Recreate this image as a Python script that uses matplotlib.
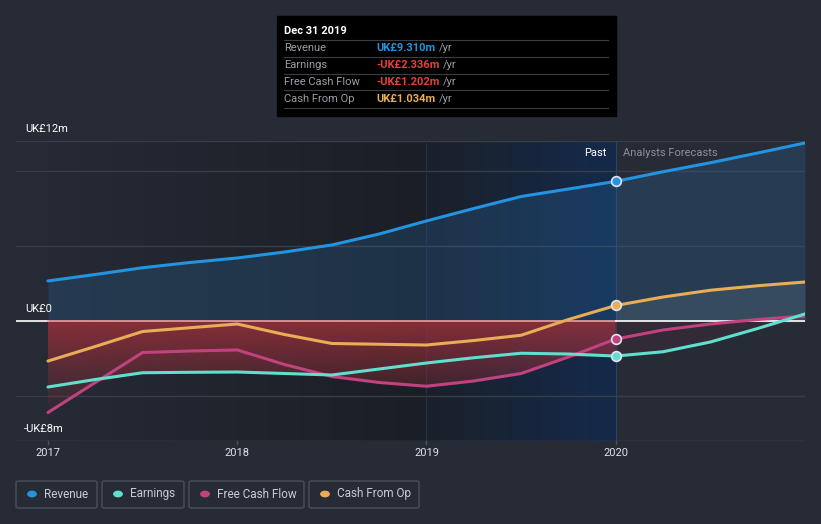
import numpy as np
import matplotlib.pyplot as plt
from matplotlib.patches import Rectangle, FancyBboxPatch, Circle

plt.rcParams['font.family'] = ['Roboto', 'DejaVu Sans']

# quarterly points, values in UK£m
years = [2017.0, 2017.25, 2017.5, 2017.75, 2018.0, 2018.25, 2018.5, 2018.75,
         2019.0, 2019.25, 2019.5, 2019.75, 2020.0]
revenue = [2.67, 3.1, 3.55, 3.9, 4.2, 4.6, 5.07, 5.8, 6.67, 7.5, 8.3, 8.8, 9.31]
earnings = [-4.4, -3.9, -3.45, -3.42, -3.4, -3.5, -3.6, -3.2, -2.8, -2.45, -2.15, -2.2, -2.336]
free_cf = [-6.1, -4.1, -2.1, -2.0, -1.93, -2.9, -3.7, -4.1, -4.35, -4.0, -3.5, -2.4, -1.202]
cash_op = [-2.67, -1.7, -0.7, -0.45, -0.2, -0.9, -1.5, -1.55, -1.6, -1.3, -0.95, 0.1, 1.034]

# analyst forecasts
f_years = [2020.0, 2020.25, 2020.5, 2020.75, 2021.0]
f_revenue = [9.31, 9.95, 10.55, 11.2, 11.87]
f_earnings = [-2.336, -2.05, -1.4, -0.5, 0.47]
f_free_cf = [-1.202, -0.6, -0.2, 0.1, 0.33]
f_cash_op = [1.034, 1.6, 2.05, 2.35, 2.6]

yticks = [12, 10, 5, 0, -5, -8]
xticks = [2017, 2018, 2019, 2020]

BG = '#262b36'
C_REV, C_EARN, C_FCF, C_CFO = '#2394df', '#5fe0cf', '#c2427f', '#e8ad55'

W, H = 821, 524
fig = plt.figure(figsize=(W / 100, H / 100), dpi=100, facecolor=BG)

def fx(x):
    return x / W

def fy(y):
    return 1 - y / H

# plot area: pixels x 16..805, y 141..441
ax = fig.add_axes([fx(16), fy(441), (805 - 16) / W, 300 / H])
ax.set_facecolor(BG)
x0 = 2017 + (16 - 48) / 189.5
for s in ax.spines.values():
    s.set_visible(False)
ax.set_xticks([])
ax.set_yticks([])

# background shading: dark gradient up to 2019, blue "past" gradient 2019-2020
g = np.linspace(0, 1, 256).reshape(1, -1)
c1 = np.array([0x26, 0x2b, 0x36]) / 255
c2 = np.array([0x1b, 0x1e, 0x25]) / 255
img = c1 + (c2 - c1) * g[..., None]
ax.imshow(img, extent=[x0, 2019, -8, 12], aspect='auto', zorder=0)
c3 = np.array([0x1b, 0x20, 0x2a]) / 255
c4 = np.array([0x14, 0x2a, 0x4b]) / 255
img2 = c3 + (c4 - c3) * g[..., None]
ax.imshow(img2, extent=[2019, 2020, -8, 12], aspect='auto', zorder=0)

for yv in yticks:
    col = '#4a505b' if yv == -8 else '#383e49'
    ax.axhline(yv, color=col, lw=1, zorder=1)
ax.axvline(2019, color='#22304a', lw=0.8, zorder=1)
ax.axvline(2020, color='#2e4264', lw=0.8, zorder=1)

all_t = years + f_years[1:]
all_rev = revenue + f_revenue[1:]
ax.fill_between(all_t, 0, all_rev, color='#2a6fa8', alpha=0.25, lw=0, zorder=2)

# red gradient under zero for the past
low = np.minimum.reduce([np.array(earnings), np.array(free_cf), np.minimum(cash_op, 0)])
poly = ax.fill_between(years, low, 0, color='none', lw=0, zorder=2)
grad = np.zeros((256, 1, 4))
grad[..., 0] = 0x9a / 255
grad[..., 1] = 0x30 / 255
grad[..., 2] = 0x3a / 255
grad[..., 3] = np.linspace(0.85, 0.0, 256).reshape(-1, 1)
rim = ax.imshow(grad, extent=[2017, 2020, -6.5, 0], aspect='auto', zorder=2)
rim.set_clip_path(poly.get_paths()[0], transform=ax.transData)

# forecast fills
ax.fill_between(f_years, 0, f_cash_op, color='#ffffff', alpha=0.08, lw=0, zorder=2)
f_low = np.minimum(np.minimum(f_earnings, f_free_cf), 0)
ax.fill_between(f_years, f_low, 0, color='#4a2a38', alpha=0.35, lw=0, zorder=2)
ax.set_xlim(x0, 2021.0)
ax.set_ylim(-8, 12)

# zero line
ax.plot([x0, 2017], [0, 0], color='white', lw=1.2, zorder=3)
ax.plot([2017, 2020], [0, 0], color='#e8a0a0', lw=1.2, zorder=3)
ax.plot([2020, 2021], [0, 0], color='white', lw=1.2, zorder=3)

series = [(revenue, f_revenue, C_REV), (cash_op, f_cash_op, C_CFO),
          (free_cf, f_free_cf, C_FCF), (earnings, f_earnings, C_EARN)]
for past, fut, c in series:
    ax.plot(years, past, color=c, lw=2.2, solid_joinstyle='round',
            solid_capstyle='round', zorder=4)
    ax.plot(f_years, fut, color=c, lw=2.2, solid_joinstyle='round',
            solid_capstyle='round', zorder=4)
    ax.plot([2020], [past[-1]], 'o', ms=7, color=c, mec='#dfe6f0', mew=1.2, zorder=5)

# bottom ticks and labels
for xt in xticks:
    ax.plot([xt, xt], [-8, -8.2], color='#4a505b', lw=1, clip_on=False)
    ax.text(xt, -8.8, str(xt), color='#e0e3e8', fontsize=8, ha='center', va='center',
            clip_on=False)

fig.text(fx(25), fy(129), 'UK£12m', color='white', fontsize=8, va='center')
fig.text(fx(25), fy(309), 'UK£0', color='white', fontsize=8, va='center')
fig.text(fx(24), fy(429), '-UK£8m', color='white', fontsize=8, va='center')

fig.text(fx(606), fy(153), 'Past', color='white', fontsize=8, ha='right', va='center')
fig.text(fx(623), fy(153), 'Analysts Forecasts', color='#8a8f98', fontsize=8, va='center')

# tooltip
fig.patches.append(Rectangle((fx(277), fy(116)), (616 - 277) / W, 100 / H,
                             transform=fig.transFigure, color='black', zorder=10))
fig.text(fx(284), fy(31), 'Dec 31 2019', color='white', fontsize=8, fontweight='bold',
         va='center', zorder=11)
rows = [('Revenue', 'UK£9.310m', C_REV), ('Earnings', '-UK£2.336m', '#e8403c'),
        ('Free Cash Flow', '-UK£1.202m', '#e8403c'), ('Cash From Op', 'UK£1.034m', C_CFO)]
for i, (lab, val, c) in enumerate(rows):
    yy = 48 + 17 * i
    fig.lines.append(plt.Line2D([fx(284), fx(608)], [fy(yy - 8.5)] * 2, color='#3a3d42',
                                lw=0.8, transform=fig.transFigure, zorder=11))
    fig.text(fx(284), fy(yy), lab, color='#9a9ea5', fontsize=8, va='center', zorder=11)
    t = fig.text(fx(376), fy(yy), val, color=c, fontsize=8, fontweight='bold',
                 va='center', zorder=11)
    fig.canvas.draw()
    bb = t.get_window_extent()
    fig.text(bb.x1 / W + fx(4), fy(yy), '/yr', color='#9a9ea5', fontsize=8,
             va='center', zorder=11)
fig.lines.append(plt.Line2D([fx(284), fx(608)], [fy(48 + 17 * 4 - 8.5)] * 2, color='#3a3d42',
                            lw=0.8, transform=fig.transFigure, zorder=11))

# legend boxes
legend = [('Revenue', C_REV, 16, 97), ('Earnings', C_EARN, 102, 184),
          ('Free Cash Flow', C_FCF, 189, 304), ('Cash From Op', C_CFO, 309, 419)]
for lab, c, xa, xb in legend:
    fig.patches.append(FancyBboxPatch((fx(xa), fy(508)), (xb - xa) / W, 27 / H,
                                      boxstyle='round,pad=0,rounding_size=0.003',
                                      transform=fig.transFigure, fc='none',
                                      ec='#4a505b', lw=1))
    fig.patches.append(Circle((fx(xa + 16), fy(494)), 4.2 / W, transform=fig.transFigure,
                              color=c))
    fig.text(fx(xa + 28), fy(494), lab, color='#c8ccd2', fontsize=8.5, va='center')

fig.savefig('out.png', dpi=100, facecolor=BG)
